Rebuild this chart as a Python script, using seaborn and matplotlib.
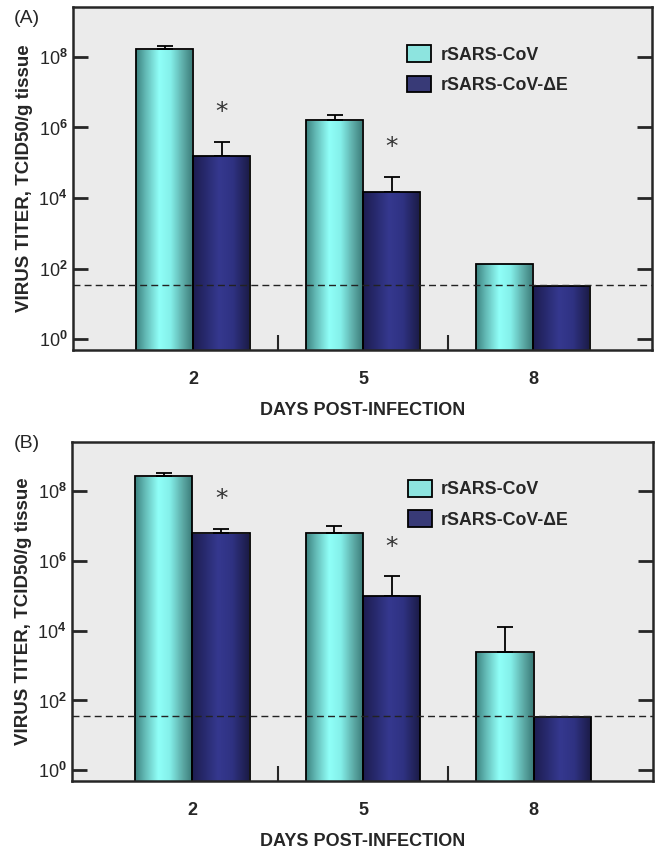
import numpy as np
import pandas as pd
import matplotlib
matplotlib.use('Agg')
import matplotlib.pyplot as plt
from matplotlib.colors import LinearSegmentedColormap
from matplotlib.ticker import NullLocator, FixedLocator
import seaborn as sns

# Data (TCID50/g tissue)
days = ['2', '5', '8']
viruses = ['rSARS-CoV', 'rSARS-CoV-\u0394E']

a_wt = [1.65e8, 1.6e6, 140]
a_wt_err = [2.1e8, 2.2e6, 140]
a_de = [1.6e5, 1.5e4, 32]
a_de_err = [4.0e5, 4.0e4, 32]
a_sig = [True, True, False]

b_wt = [2.7e8, 6.3e6, 2.4e3]
b_wt_err = [3.4e8, 9.8e6, 1.3e4]
b_de = [6.3e6, 1.0e5, 33]
b_de_err = [8.4e6, 3.7e5, 33]
b_sig = [True, True, False]

detection_limit = [34, 35]
ytick_vals = [1, 1e2, 1e4, 1e6, 1e8]
ytick_labels = ['10$^{0}$', '10$^{2}$', '10$^{4}$', '10$^{6}$', '10$^{8}$']

sns.set_style('ticks')
plt.rcParams['font.family'] = ['Liberation Sans', 'DejaVu Sans']
plt.rcParams['mathtext.fontset'] = 'custom'
plt.rcParams['mathtext.rm'] = 'Liberation Sans:bold'
plt.rcParams['mathtext.it'] = 'Liberation Sans:bold'
plt.rcParams['mathtext.bf'] = 'Liberation Sans:bold'

cmap_wt = LinearSegmentedColormap.from_list('wt', [
    (0.0, '#3f8784'), (0.15, '#62b8b4'), (0.4, '#90fff8'),
    (0.6, '#84f0ea'), (0.85, '#59a5a1'), (1.0, '#3b7c79')])
cmap_de = LinearSegmentedColormap.from_list('de', [
    (0.0, '#1d1e52'), (0.45, '#35388f'), (0.7, '#2f3282'), (1.0, '#1b1b46')])
solid = ['#7ff2ec', '#2d3082']

fig = plt.figure(figsize=(6.6, 8.5), dpi=100)
ax_a = fig.add_axes([0.1106, 0.588, 0.8774, 0.4038])
ax_b = fig.add_axes([0.1091, 0.0812, 0.8803, 0.3988])


def draw_panel(ax, wt, wt_err, de, de_err, sig, dl):
    df = pd.DataFrame({
        'day': days * 2,
        'virus': [viruses[0]] * 3 + [viruses[1]] * 3,
        'titer': wt + de,
    })
    ax.set_facecolor('#ebebeb')
    ax.set_yscale('log')
    sns.barplot(data=df, x='day', y='titer', hue='virus', palette=solid,
                width=0.67, errorbar=None, edgecolor='black', linewidth=1.3,
                ax=ax)
    ax.set_ylim(0.49, 2.6e9)
    ax.set_xlim(-0.706, 2.70)

    # gradient fill clipped to each bar
    for cont, cmap in zip(ax.containers, [cmap_wt, cmap_de]):
        for bar in cont:
            x0 = bar.get_x()
            w = bar.get_width()
            grad = np.linspace(0, 1, 64).reshape(1, -1)
            im = ax.imshow(grad, cmap=cmap, aspect='auto',
                           extent=[x0, x0 + w, 0.49, bar.get_height()],
                           interpolation='bilinear', zorder=2)
            im.set_clip_path(bar)
            bar.set_facecolor('none')
            bar.set_zorder(3)

    # upper error bars
    for cont, vals, tops in zip(ax.containers, [wt, de], [wt_err, de_err]):
        for bar, v, t in zip(cont, vals, tops):
            if t > v:
                xc = bar.get_x() + bar.get_width() / 2
                ax.errorbar([xc], [v], yerr=[[0], [t - v]], fmt='none',
                            ecolor='black', elinewidth=1.3, capsize=6,
                            capthick=1.3, zorder=1)

    # significance asterisks
    for bar, t, s in zip(ax.containers[1], de_err, sig):
        if s:
            xc = bar.get_x() + bar.get_width() / 2
            ax.text(xc, t * 7, '*', ha='center', va='center', fontsize=18,
                    color='#333333', family='DejaVu Sans')

    ax.axhline(dl, color='#222222', linestyle=(0, (5, 3)), linewidth=1.0,
               zorder=4)

    ax.yaxis.set_major_locator(FixedLocator(ytick_vals))
    ax.set_yticklabels(ytick_labels)
    ax.yaxis.set_minor_locator(NullLocator())
    ax.tick_params(axis='y', which='major', direction='in', length=11,
                   width=2, left=True, right=True, labelsize=13, pad=4)
    ax.set_xticks([0, 1, 2])
    ax.set_xticklabels(days, fontweight='bold', fontsize=13)
    ax.set_xticks([0.5, 1.5], minor=True)
    ax.tick_params(axis='x', which='major', length=0, pad=15)
    ax.tick_params(axis='x', which='minor', direction='in', length=11,
                   width=1.5)
    for sp in ax.spines.values():
        sp.set_visible(True)
        sp.set_linewidth(1.8)
        sp.set_zorder(5)

    ax.set_xlabel('DAYS POST-INFECTION', fontweight='bold', fontsize=13,
                  labelpad=10)
    ax.set_ylabel('VIRUS TITER, TCID50/g tissue', fontweight='bold',
                  fontsize=13.5, labelpad=4)

    handles, labels = ax.get_legend_handles_labels()
    ax.legend(handles, labels, loc='upper left', bbox_to_anchor=(0.55, 0.935),
              frameon=False, prop={'weight': 'bold', 'size': 12.8},
              handlelength=1.35, handleheight=1.05, labelspacing=0.68,
              handletextpad=0.5)


draw_panel(ax_a, a_wt, a_wt_err, a_de, a_de_err, a_sig, detection_limit[0])
draw_panel(ax_b, b_wt, b_wt_err, b_de, b_de_err, b_sig, detection_limit[1])

fig.text(0.021, 0.973, '(A)', fontsize=14)
fig.text(0.021, 0.473, '(B)', fontsize=14)

fig.savefig('out.png', dpi=100, facecolor='white')
